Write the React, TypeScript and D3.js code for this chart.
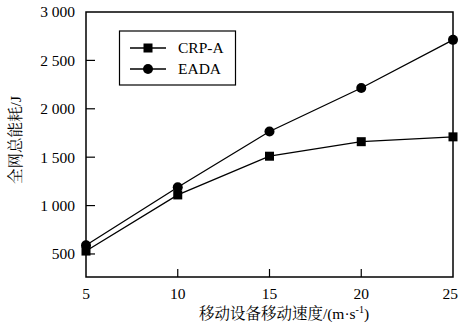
import React from 'react'
import * as d3 from 'd3'

const speeds = [5, 10, 15, 20, 25]
const crpA = [530, 1110, 1510, 1660, 1710]
const eada = [590, 1190, 1765, 2215, 2712]
const seriesNames = ['CRP-A', 'EADA']
const yTicks = [500, 1000, 1500, 2000, 2500, 3000]
const xTicks = [5, 10, 15, 20, 25]

const W = 459
const H = 325
const m = { left: 86, right: 6, top: 12, bottom: 48 }
const font = 'Liberation Serif, Tinos, DejaVu Serif, Noto Serif, Times, serif'
const cjk = 'Liberation Serif, Noto Serif CJK SC, Noto Sans CJK SC, serif'

const fmt = (v: number) => d3.format(',')(v).replace(',', ' ')

const Marker = ({ kind, x, y }: { kind: string; x: number; y: number }) =>
  kind === 'square'
    ? <rect x={x - 4.5} y={y - 4.5} width={9} height={9} fill='#000' />
    : <circle cx={x} cy={y} r={5} fill='#000' />

export default function App() {
  const x = d3.scaleLinear().domain([5, 25]).range([m.left, W - m.right])
  const y = d3.scaleLinear().domain([262, 3000]).range([H - m.bottom, m.top])
  const line = d3.line<number>().x((_, i) => x(speeds[i])).y(d => y(d))
  const series = [
    { name: seriesNames[0], values: crpA, kind: 'square' },
    { name: seriesNames[1], values: eada, kind: 'circle' },
  ]
  const x0 = x(5), x1 = x(25), yb = y.range()[0], yt = y.range()[1]
  const fs = 15.5

  return (
    <svg width={W} height={H} style={{ position: 'absolute', left: 0, top: 0 }}>
      <rect x={x0} y={yt} width={x1 - x0} height={yb - yt} fill='none' stroke='#000' strokeWidth={1.5} />
      {yTicks.map(t => (
        <g key={t}>
          {t < 3000 && <line x1={x0} x2={x0 + 9} y1={y(t)} y2={y(t)} stroke='#000' strokeWidth={1.2} />}
          <text x={x0 - 11} y={y(t)} dy='0.35em' textAnchor='end' fontSize={fs} fontFamily={font}>{fmt(t)}</text>
        </g>
      ))}
      {xTicks.map(t => (
        <g key={t}>
          {t > 5 && t < 25 && <line x1={x(t)} x2={x(t)} y1={yb} y2={yb - 8} stroke='#000' strokeWidth={1.2} />}
          <text x={t === 25 ? W - 1 : x(t)} y={yb + 22} textAnchor={t === 25 ? 'end' : 'middle'} fontSize={fs} fontFamily={font}>{t}</text>
        </g>
      ))}
      {series.map(s => (
        <g key={s.name}>
          <path d={line(s.values) || ''} fill='none' stroke='#000' strokeWidth={1.3} />
          {s.values.map((v, i) => <Marker key={i} kind={s.kind} x={x(speeds[i])} y={y(v)} />)}
        </g>
      ))}
      <rect x={119.5} y={31} width={116} height={54} fill='#fff' stroke='#000' strokeWidth={1.2} />
      {series.map((s, i) => {
        const ly = 48 + i * 21
        return (
          <g key={s.name}>
            <line x1={130} x2={166} y1={ly} y2={ly} stroke='#000' strokeWidth={1.3} />
            <Marker kind={s.kind} x={148} y={ly} />
            <text x={178} y={ly} dy='0.35em' fontSize={fs} fontFamily={font}>{s.name}</text>
          </g>
        )
      })}
      <text transform={`translate(21, 140) rotate(-90)`} textAnchor='middle' fontSize={fs} fontFamily={cjk}>全网总能耗/J</text>
      <text x={284} y={319} textAnchor='middle' fontSize={fs} fontFamily={cjk}>
        移动设备移动速度/(m·s<tspan dy={-6} fontSize={10}>-1</tspan><tspan dy={6}>)</tspan>
      </text>
    </svg>
  )
}
